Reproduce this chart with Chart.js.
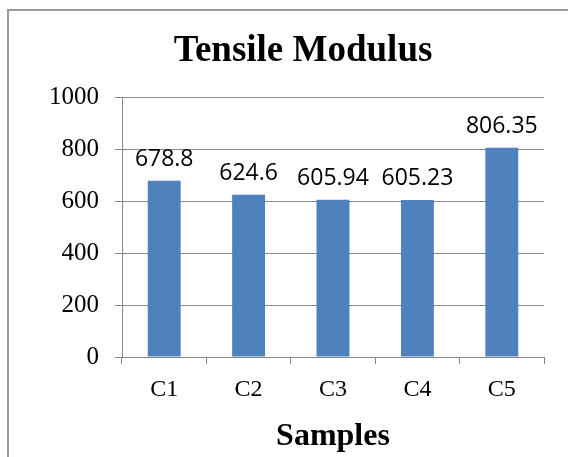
<!DOCTYPE html>
<html>
<head>
<meta charset="utf-8">
<title>Tensile Modulus</title>
<script src="https://cdn.jsdelivr.net/npm/chart.js@4"></script>
<style>
  html, body { margin: 0; padding: 0; background: #fff; overflow: hidden; }
  #box {
    position: absolute;
    left: 7px;
    top: 9px;
    border: 2px solid #9a9a9a;
    width: 600px;
    height: 450px;
  }
  #box canvas { display: block; }
</style>
</head>
<body>
<div id="box"><canvas id="modulusChart" width="550" height="450"></canvas></div>
<script>
// chart data
const samples = ["C1", "C2", "C3", "C4", "C5"];
const modulus = [678.8, 624.6, 605.94, 605.23, 806.35];
const yTicks = [0, 200, 400, 600, 800, 1000];

const serif = "'Liberation Serif', 'Times New Roman', serif";
const gray = "#888888";

// value labels above each bar
const barLabels = {
  id: "barLabels",
  afterDatasetsDraw(chart) {
    const ctx = chart.ctx;
    const meta = chart.getDatasetMeta(0);
    ctx.save();
    ctx.font = "23px 'Open Sans', sans-serif";
    ctx.fillStyle = "#000";
    ctx.textAlign = "center";
    ctx.textBaseline = "alphabetic";
    meta.data.forEach((bar, i) => {
      ctx.fillText(String(modulus[i]), bar.x, bar.y - 15);
    });
    ctx.restore();
  }
};

new Chart(document.getElementById("modulusChart"), {
  type: "bar",
  data: {
    labels: samples,
    datasets: [{
      label: "Tensile Modulus",
      data: modulus,
      backgroundColor: "#4f81bd",
      barPercentage: 0.39,
      categoryPercentage: 1
    }]
  },
  options: {
    responsive: false,
    animation: false,
    layout: { padding: { left: 38, right: 0, top: 0, bottom: 5 } },
    plugins: {
      legend: { display: false },
      tooltip: { enabled: false },
      title: {
        display: true,
        text: "Tensile Modulus",
        color: "#000",
        font: { family: serif, size: 37, weight: "bold" },
        padding: { top: 18, bottom: 24 }
      }
    },
    scales: {
      x: {
        grid: { drawOnChartArea: false, tickLength: 7, offset: true, color: gray },
        border: { color: gray },
        ticks: { color: "#000", font: { family: serif, size: 24 }, padding: 11 },
        title: {
          display: true,
          text: "Samples",
          color: "#000",
          font: { family: serif, size: 32, weight: "bold" },
          padding: 0
        },
        afterFit(scale) { scale.height = 99; }
      },
      y: {
        min: 0,
        max: 1000,
        afterBuildTicks(scale) { scale.ticks = yTicks.map(v => ({ value: v })); },
        grid: { color: gray, tickLength: 7 },
        border: { color: gray },
        ticks: {
          color: "#000",
          font: { family: serif, size: 25 },
          padding: 16,
          callback: v => String(v)
        },
        afterFit(scale) { scale.width = 75; }
      },
      // empty right-hand gap so the plot ends short of the box edge
      gap: {
        type: "linear",
        position: "right",
        grid: { display: false },
        border: { display: false },
        ticks: { display: false },
        afterFit(scale) { scale.width = 15; }
      }
    }
  },
  plugins: [barLabels]
});
</script>
</body>
</html>
